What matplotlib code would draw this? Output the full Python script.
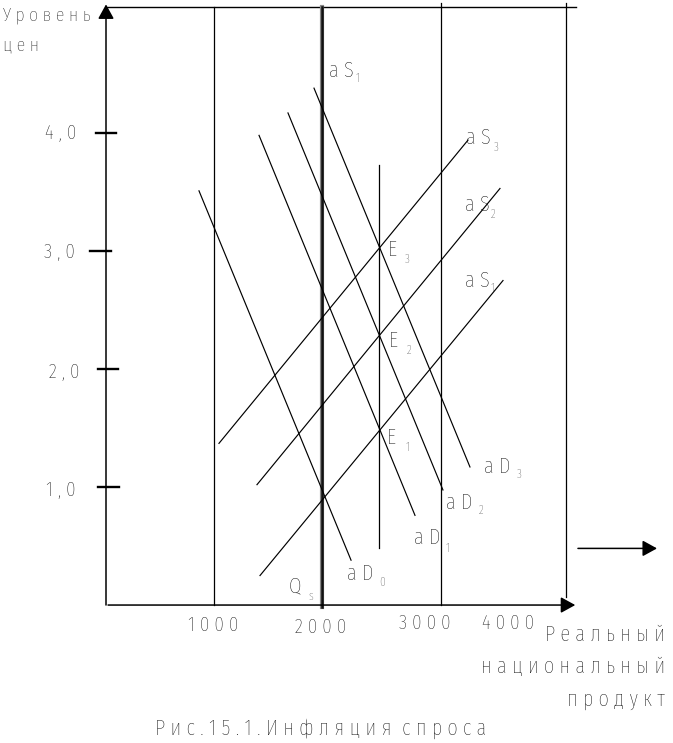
import matplotlib.pyplot as plt

# узкий шрифт, как в исходной схеме; DejaVu Sans как запасной
plt.rcParams['font.family'] = ['Fira Sans Extra Condensed', 'DejaVu Sans']
plt.rcParams['font.weight'] = 'light'

# --- данные схемы (X: реальный продукт, Y: уровень цен) ---
# кривые совокупного спроса aD0..aD3
dem_names = ['0', '1', '2', '3']
dem_x0 = [861, 1417, 1685, 1926]
dem_y0 = [3.51, 3.98, 4.17, 4.38]
dem_x1 = [2269, 2861, 3120, 3370]
dem_y1 = [0.38, 0.76, 0.975, 1.17]

# кривые совокупного предложения aS1, aS2, aS3
sup_names = ['1', '2', '3']
sup_x0 = [1426, 1398, 1046]
sup_y0 = [0.25, 1.02, 1.37]
sup_x1 = [3676, 3648, 3352]
sup_y1 = [2.75, 3.53, 3.94]

# вертикальные линии
vline_x = [1000, 3100, 4260, 2530]
vline_lo = [0.0, 0.0, 0.07, 0.48]
vline_hi = [5.07, 5.10, 5.10, 3.73]
qs_x = 2000          # вертикальная aS (толстая)

# деления оси Y
ytick_vals = [4.0, 3.0, 2.0, 1.0]
ytick_labels = ['4 , 0', '3 , 0', '2 , 0', '1 , 0']
ytick_lo = [-93, -148, -74, -74]
ytick_hi = [93, 46, 111, 120]

# подписи оси X
xtick_pos = [991, 1991, 2954, 3722]
xtick_y = [-0.17, -0.19, -0.153, -0.153]
xtick_labels = ['1 0 0 0', '2 0 0 0', '3 0 0 0', '4 0 0 0']

TXT = '#000000'
SUB = '#333333'

fig = plt.figure(figsize=(6.73, 7.43), dpi=100)
ax = fig.add_axes([0, 0, 1, 1])
ax.set_xlim(-981.5, 5250)
ax.set_ylim(-1.169, 5.127)
ax.axis('off')

ARROW = dict(arrowstyle='-|>,head_length=0.4,head_width=0.22',
             mutation_scale=22, lw=1.1, color='black', shrinkA=0, shrinkB=0)

# оси и рамка
ax.annotate('', xy=(0, 5.09), xytext=(0, 0), arrowprops=ARROW)
ax.annotate('', xy=(4345, 0.0), xytext=(19, 0.0), arrowprops=ARROW)
ax.annotate('', xy=(5102, 0.48), xytext=(4370, 0.48), arrowprops=ARROW)
ax.plot([0, 4352], [5.07, 5.07], color='black', lw=1.0)

for x, lo, hi in zip(vline_x, vline_lo, vline_hi):
    ax.plot([x, x], [lo, hi], color='black', lw=0.9)
ax.plot([qs_x, qs_x], [-0.02, 5.07], color='#888888', lw=3.0)
ax.plot([qs_x, qs_x], [-0.02, 5.07], color='#111111', lw=1.8)

# деления и подписи оси Y
for v, lo, hi in zip(ytick_vals, ytick_lo, ytick_hi):
    ax.plot([lo, hi], [v, v], color='black', lw=1.7)
ylab_x = [-278, -287, -241, -278]
ylab_y = [4.0, 2.99, 1.975, 0.975]
for x, y, lab in zip(ylab_x, ylab_y, ytick_labels):
    ax.text(x, y, lab, ha='right', va='center', fontsize=15, color=TXT)

# кривые
for x0, y0, x1, y1 in zip(dem_x0, dem_y0, dem_x1, dem_y1):
    ax.plot([x0, x1], [y0, y1], color='black', lw=0.85)
for x0, y0, x1, y1 in zip(sup_x0, sup_y0, sup_x1, sup_y1):
    ax.plot([x0, x1], [y0, y1], color='black', lw=0.85)

# подписи кривых: (основной текст, x, y, индекс, x, y)
labels = [
    ('a S', 2065, 4.53, '1', 2306, 4.46),
    ('a S', 3333, 3.96, '3', 3593, 3.88),
    ('a S', 3324, 3.39, '2', 3565, 3.31),
    ('a S', 3324, 2.75, '1', 3565, 2.68),
    ('E', 2611, 3.01, '3', 2769, 2.93),
    ('E', 2620, 2.24, '2', 2787, 2.16),
    ('E', 2602, 1.415, '1', 2769, 1.34),
    ('a D', 3500, 1.17, '3', 3806, 1.11),
    ('a D', 3148, 0.865, '2', 3454, 0.80),
    ('a D', 2852, 0.57, '1', 3148, 0.485),
    ('a D', 2231, 0.27, '0', 2528, 0.195),
    ('Q', 1694, 0.16, 's', 1870, 0.076),
]
for main, mx, my, sub, sx, sy in labels:
    ax.text(mx, my, main, ha='left', va='center', fontsize=16, color=TXT)
    ax.text(sx, sy, sub, ha='left', va='center', fontsize=9, color=SUB)

# подписи оси X
for x, y, lab in zip(xtick_pos, xtick_y, xtick_labels):
    ax.text(x, y, lab, ha='center', va='center', fontsize=15, color=TXT)

# названия осей
ax.text(-954, 5.0, 'У р о в е н ь', ha='left', va='center', fontsize=14, color=TXT)
ax.text(-954, 4.74, 'ц е н', ha='left', va='center', fontsize=14, color=TXT)
ax.text(5176, -0.246, 'Р е а л ь н ы й', ha='right', va='center', fontsize=16, color=TXT)
ax.text(5176, -0.525, 'н а ц и о н а л ь н ы й', ha='right', va='center',
        fontsize=16, color=TXT)
ax.text(5176, -0.797, 'п р о д у к т', ha='right', va='center', fontsize=16, color=TXT)

# подпись рисунка
ax.text(454, -1.042, 'Р и с . 1 5 . 1 . И н ф л я ц и я  с п р о с а',
        ha='left', va='center', fontsize=16, color=TXT)

fig.savefig('out.png', dpi=100)
